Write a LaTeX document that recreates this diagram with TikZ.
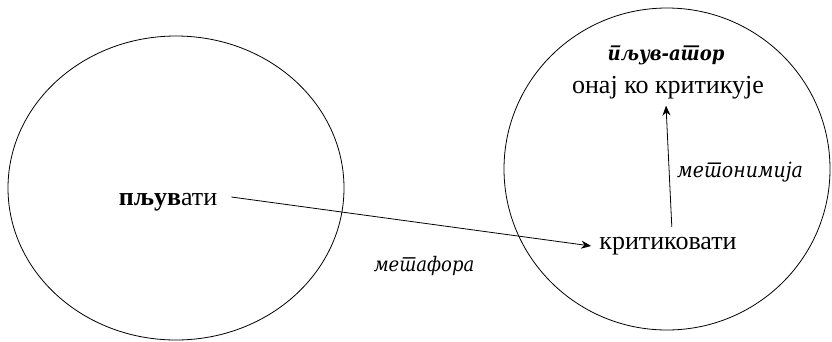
\documentclass[tikz,border=0pt]{standalone}
\usepackage{fontspec}
\setmainfont{Liberation Serif}[Script=Cyrillic,Language=Serbian]
\newfontfamily\srbital{DejaVu Serif Condensed}[Script=Cyrillic,Language=Serbian]
\usetikzlibrary{arrows.meta}

\tikzset{
  word/.style={inner sep=6pt, font=\fontsize{26}{28}\selectfont},
  trope/.style={inner sep=2pt, font=\fontsize{20}{22}\srbital\itshape},
  link/.style={->, line width=0.8pt}
}

\begin{document}
\begin{tikzpicture}[x=1pt, y=-1pt, >={Stealth[length=10pt,width=8pt]}]
  \useasboundingbox (0,0) rectangle (832,341);
  % domains
  \draw[line width=0.8pt] (176,188) ellipse [x radius=168, y radius=152];
  \draw[line width=0.8pt] (667,169) ellipse [x radius=163, y radius=161];

  \node[word] (pljuvati) at (168,202) {\textbf{пљув}ати};
  \node[word] (kritikovati) at (668,246) {критиковати};
  \node[word] (onaj) at (668,88) {онај ко критикује};
  \node[word, font=\fontsize{20}{22}\srbital\bfseries\itshape] (pljuvator) at (666,55) {пљув-атор};

  \node[trope] (metafora) at (424,266) {метафора};
  \node[trope, font=\fontsize{21}{23}\srbital\itshape] (metonimija) at (740,172) {метонимија};

  \draw[link] ([shift={(8pt,5pt)}]pljuvati.east) -- ([xshift=-2pt]kritikovati.west);
  \draw[link, shorten <=4pt] ([xshift=4pt]kritikovati.north) -- ([xshift=-2pt]onaj.south);
\end{tikzpicture}
\end{document}
